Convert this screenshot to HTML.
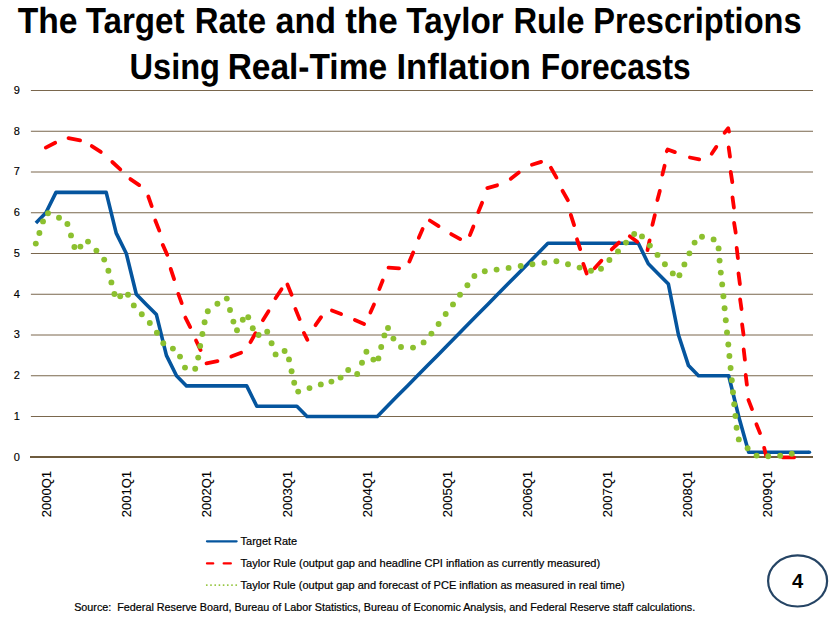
<!DOCTYPE html>
<html><head><meta charset="utf-8"><title>Taylor Rule</title>
<style>
html,body{margin:0;padding:0;background:#fff;}
body{width:835px;height:617px;overflow:hidden;font-family:"Liberation Sans",sans-serif;}
svg{display:block;}
text{font-family:"Liberation Sans",sans-serif;}
</style></head><body>
<svg width="835" height="617" viewBox="0 0 835 617">
<rect x="0" y="0" width="835" height="617" fill="#ffffff"/>
<g font-weight="bold" font-size="36.2" fill="#000" text-rendering="geometricPrecision">
<text x="17.72" y="32.8" textLength="59.84" lengthAdjust="spacingAndGlyphs">The</text>
<text x="85.72" y="32.8" textLength="98.84" lengthAdjust="spacingAndGlyphs">Target</text>
<text x="194.74" y="32.8" textLength="71.42" lengthAdjust="spacingAndGlyphs">Rate</text>
<text x="275.61" y="32.8" textLength="60.38" lengthAdjust="spacingAndGlyphs">and</text>
<text x="345.17" y="32.8" textLength="52.56" lengthAdjust="spacingAndGlyphs">the</text>
<text x="406.35" y="32.8" textLength="97.30" lengthAdjust="spacingAndGlyphs">Taylor</text>
<text x="513.44" y="32.8" textLength="71.00" lengthAdjust="spacingAndGlyphs">Rule</text>
<text x="593.35" y="32.8" textLength="208.21" lengthAdjust="spacingAndGlyphs">Prescriptions</text>
<text x="129.55" y="78.5" textLength="90.48" lengthAdjust="spacingAndGlyphs">Using</text>
<text x="227.63" y="78.5" textLength="159.43" lengthAdjust="spacingAndGlyphs">Real-Time</text>
<text x="396.40" y="78.5" textLength="134.60" lengthAdjust="spacingAndGlyphs">Inflation</text>
<text x="540.76" y="78.5" textLength="150.00" lengthAdjust="spacingAndGlyphs">Forecasts</text>
</g>
<g stroke="#7a674d" stroke-width="1" fill="none">
<line x1="30.9" y1="416.50" x2="813.0" y2="416.50"/>
<line x1="30.9" y1="375.75" x2="813.0" y2="375.75"/>
<line x1="30.9" y1="335.00" x2="813.0" y2="335.00"/>
<line x1="30.9" y1="294.25" x2="813.0" y2="294.25"/>
<line x1="30.9" y1="253.50" x2="813.0" y2="253.50"/>
<line x1="30.9" y1="212.75" x2="813.0" y2="212.75"/>
<line x1="30.9" y1="172.00" x2="813.0" y2="172.00"/>
<line x1="30.9" y1="131.25" x2="813.0" y2="131.25"/>
<line x1="30.9" y1="90.50" x2="813.0" y2="90.50"/>
</g>
<line x1="30" y1="457" x2="813.0" y2="457" stroke="#6e5b3e" stroke-width="2"/>
<g font-size="11" fill="#000" stroke="#000" stroke-width="0.15" text-anchor="end">
<text x="19.9" y="460.7">0</text>
<text x="19.9" y="419.9">1</text>
<text x="19.9" y="379.2">2</text>
<text x="19.9" y="338.4">3</text>
<text x="19.9" y="297.7">4</text>
<text x="19.9" y="256.9">5</text>
<text x="19.9" y="216.2">6</text>
<text x="19.9" y="175.4">7</text>
<text x="19.9" y="134.7">8</text>
<text x="19.9" y="94.0">9</text>
</g>
<g font-size="13" fill="#000" stroke="#000" stroke-width="0.1" text-anchor="end">
<text transform="translate(51.2,470.9) rotate(-90)" x="0" y="0">2000Q1</text>
<text transform="translate(131.3,470.9) rotate(-90)" x="0" y="0">2001Q1</text>
<text transform="translate(211.4,470.9) rotate(-90)" x="0" y="0">2002Q1</text>
<text transform="translate(291.5,470.9) rotate(-90)" x="0" y="0">2003Q1</text>
<text transform="translate(371.6,470.9) rotate(-90)" x="0" y="0">2004Q1</text>
<text transform="translate(451.7,470.9) rotate(-90)" x="0" y="0">2005Q1</text>
<text transform="translate(531.8,470.9) rotate(-90)" x="0" y="0">2006Q1</text>
<text transform="translate(611.9,470.9) rotate(-90)" x="0" y="0">2007Q1</text>
<text transform="translate(692.0,470.9) rotate(-90)" x="0" y="0">2008Q1</text>
<text transform="translate(772.1,470.9) rotate(-90)" x="0" y="0">2009Q1</text>
</g>
<polyline points="35.9,222.9 45.9,212.8 56.0,192.4 66.0,192.4 76.1,192.4 86.1,192.4 96.1,192.4 106.2,192.4 116.2,233.1 126.3,253.5 136.3,294.2 146.3,304.4 156.4,314.6 166.4,355.4 176.5,375.8 186.5,385.9 196.5,385.9 206.6,385.9 216.6,385.9 226.7,385.9 236.7,385.9 246.7,385.9 256.8,406.3 266.8,406.3 276.9,406.3 286.9,406.3 296.9,406.3 307.0,416.5 317.0,416.5 327.1,416.5 337.1,416.5 347.1,416.5 357.2,416.5 367.2,416.5 377.3,416.5 387.3,406.3 397.3,396.1 407.4,385.9 417.4,375.8 427.5,365.6 437.5,355.4 447.5,345.2 457.6,335.0 467.6,324.8 477.7,314.6 487.7,304.4 497.7,294.2 507.8,284.1 517.8,273.9 527.9,263.7 537.9,253.5 547.9,243.3 558.0,243.3 568.0,243.3 578.1,243.3 588.1,243.3 598.1,243.3 608.2,243.3 618.2,243.3 628.3,243.3 638.3,243.3 648.3,263.7 658.4,273.9 668.4,284.1 678.5,335.0 688.5,365.6 698.5,375.8 708.6,375.8 718.6,375.8 728.7,375.8 738.7,416.5 748.7,452.2 758.8,452.2 768.8,452.2 778.9,452.2 788.9,452.2 798.9,452.2 809.0,452.2" fill="none" stroke="#05559e" stroke-width="3.6" stroke-linejoin="round" stroke-linecap="butt"/>
<circle cx="809.4" cy="452.2" r="1.80" fill="#05559e"/>
<g fill="none" stroke="#ff0000" stroke-width="3.8" stroke-linecap="round" stroke-linejoin="round">
<polyline points="45.8,147.6 55.2,142.8"/>
<polyline points="68.5,138.2 80.1,140.4"/>
<polyline points="91.8,146.1 100.8,151.9"/>
<polyline points="112.3,162.0 120.3,169.4"/>
<polyline points="130.4,179.1 139.2,185.1"/>
<polyline points="148.3,196.5 151.7,206.1"/>
<polyline points="155.3,220.5 159.3,230.6"/>
<polyline points="162.8,244.9 167.2,254.7"/>
<polyline points="170.7,268.9 174.1,279.1"/>
<polyline points="178.3,293.9 181.7,303.1"/>
<polyline points="185.4,317.6 190.2,327.1"/>
<polyline points="196.0,340.5 200.6,350.1"/>
<polyline points="206.5,363.4 217.5,361.2"/>
<polyline points="231.3,356.6 241.1,352.8"/>
<polyline points="250.5,342.2 255.5,333.2"/>
<polyline points="262.9,320.2 268.5,311.2"/>
<polyline points="275.5,298.2 281.5,289.2"/>
<polyline points="287.4,284.5 291.6,294.7"/>
<polyline points="295.4,308.9 299.6,319.1"/>
<polyline points="303.9,332.9 307.4,339.8"/>
<polyline points="315.5,325.2 321.1,317.2"/>
<polyline points="331.9,310.4 341.1,314.0"/>
<polyline points="354.9,320.0 364.1,324.0"/>
<polyline points="370.4,312.6 374.0,304.5"/>
<polyline points="379.3,289.1 382.7,280.5"/>
<polyline points="388.5,267.7 399.1,268.3"/>
<polyline points="409.4,261.5 413.2,252.5"/>
<polyline points="418.8,237.7 422.6,228.9"/>
<polyline points="429.8,220.5 438.6,226.1"/>
<polyline points="451.2,234.1 460.2,239.1"/>
<polyline points="469.9,235.1 473.4,226.5"/>
<polyline points="478.3,212.1 482.1,202.7"/>
<polyline points="487.3,188.1 497.1,185.3"/>
<polyline points="510.8,178.8 518.8,172.6"/>
<polyline points="531.9,164.7 541.1,161.9"/>
<polyline points="550.9,167.8 556.5,177.6"/>
<polyline points="562.5,190.8 567.9,200.2"/>
<polyline points="570.8,214.9 574.1,225.1"/>
<polyline points="577.0,239.3 580.2,249.1"/>
<polyline points="583.3,263.9 586.7,273.5"/>
<polyline points="594.6,268.3 601.4,260.7"/>
<polyline points="611.7,249.4 618.9,242.6"/>
<polyline points="629.8,236.2 637.2,241.8"/>
<polyline points="647.5,250.1 649.6,240.4"/>
<polyline points="652.4,224.9 654.8,215.1"/>
<polyline points="657.4,200.1 659.8,190.9"/>
<polyline points="662.4,174.6 664.6,165.8"/>
<polyline points="666.8,151.2 667.7,149.5 674.9,152.1"/>
<polyline points="689.9,157.5 699.2,159.4"/>
<polyline points="711.7,153.7 716.3,146.9"/>
<polyline points="724.6,132.7 728.2,128.3 729.0,131.6"/>
<polyline points="728.7,147.5 730.0,156.7"/>
<polyline points="730.7,171.9 732.3,182.1"/>
<polyline points="732.5,197.3 733.9,207.5"/>
<polyline points="734.1,222.9 735.7,232.6"/>
<polyline points="736.7,247.9 737.9,258.1"/>
<polyline points="738.5,273.3 739.9,284.1"/>
<polyline points="740.1,299.3 741.5,309.1"/>
<polyline points="742.1,324.3 743.5,334.5"/>
<polyline points="743.7,349.5 744.9,359.7"/>
<polyline points="745.7,374.9 746.9,384.7"/>
<polyline points="748.4,399.9 752.0,409.1"/>
<polyline points="756.4,424.3 760.0,433.1"/>
<polyline points="764.2,447.9 766.2,456.1"/>
<polyline points="783.0,457.4 794.0,457.4"/>
</g>
<g fill="#8cc02f">
<circle cx="35.8" cy="243.6" r="2.95"/>
<circle cx="39.4" cy="233.0" r="2.95"/>
<circle cx="43.0" cy="221.4" r="2.95"/>
<circle cx="48.0" cy="213.2" r="2.95"/>
<circle cx="59.0" cy="217.8" r="2.95"/>
<circle cx="67.4" cy="224.0" r="2.95"/>
<circle cx="71.0" cy="235.4" r="2.95"/>
<circle cx="74.4" cy="247.0" r="2.95"/>
<circle cx="80.4" cy="246.6" r="2.95"/>
<circle cx="88.0" cy="241.6" r="2.95"/>
<circle cx="96.4" cy="250.6" r="2.95"/>
<circle cx="104.2" cy="259.6" r="2.95"/>
<circle cx="108.4" cy="270.8" r="2.95"/>
<circle cx="111.4" cy="282.4" r="2.95"/>
<circle cx="114.4" cy="294.0" r="2.95"/>
<circle cx="120.2" cy="296.2" r="2.95"/>
<circle cx="128.0" cy="294.8" r="2.95"/>
<circle cx="133.8" cy="305.4" r="2.95"/>
<circle cx="141.8" cy="314.2" r="2.95"/>
<circle cx="149.8" cy="323.0" r="2.95"/>
<circle cx="156.9" cy="332.8" r="2.95"/>
<circle cx="163.3" cy="343.2" r="2.95"/>
<circle cx="172.9" cy="348.6" r="2.95"/>
<circle cx="180.0" cy="356.6" r="2.95"/>
<circle cx="185.0" cy="367.6" r="2.95"/>
<circle cx="195.2" cy="368.8" r="2.95"/>
<circle cx="198.2" cy="357.6" r="2.95"/>
<circle cx="200.2" cy="346.0" r="2.95"/>
<circle cx="202.4" cy="334.0" r="2.95"/>
<circle cx="204.6" cy="322.2" r="2.95"/>
<circle cx="207.8" cy="311.2" r="2.95"/>
<circle cx="217.4" cy="303.8" r="2.95"/>
<circle cx="226.8" cy="298.6" r="2.95"/>
<circle cx="230.0" cy="310.0" r="2.95"/>
<circle cx="233.4" cy="321.6" r="2.95"/>
<circle cx="237.0" cy="330.2" r="2.95"/>
<circle cx="242.8" cy="319.8" r="2.95"/>
<circle cx="248.2" cy="317.2" r="2.95"/>
<circle cx="252.8" cy="328.2" r="2.95"/>
<circle cx="258.6" cy="335.0" r="2.95"/>
<circle cx="267.2" cy="331.8" r="2.95"/>
<circle cx="271.6" cy="343.2" r="2.95"/>
<circle cx="275.6" cy="354.4" r="2.95"/>
<circle cx="284.6" cy="351.0" r="2.95"/>
<circle cx="289.0" cy="359.4" r="2.95"/>
<circle cx="291.6" cy="371.2" r="2.95"/>
<circle cx="294.2" cy="382.8" r="2.95"/>
<circle cx="298.2" cy="391.6" r="2.95"/>
<circle cx="309.5" cy="388.1" r="2.95"/>
<circle cx="320.8" cy="384.4" r="2.95"/>
<circle cx="331.4" cy="381.6" r="2.95"/>
<circle cx="340.6" cy="377.6" r="2.95"/>
<circle cx="348.2" cy="370.0" r="2.95"/>
<circle cx="357.2" cy="374.0" r="2.95"/>
<circle cx="362.0" cy="362.8" r="2.95"/>
<circle cx="366.4" cy="351.8" r="2.95"/>
<circle cx="373.4" cy="359.6" r="2.95"/>
<circle cx="378.4" cy="358.4" r="2.95"/>
<circle cx="381.2" cy="347.0" r="2.95"/>
<circle cx="384.4" cy="335.4" r="2.95"/>
<circle cx="388.0" cy="328.0" r="2.95"/>
<circle cx="393.4" cy="338.6" r="2.95"/>
<circle cx="401.0" cy="347.0" r="2.95"/>
<circle cx="413.0" cy="347.6" r="2.95"/>
<circle cx="423.6" cy="342.4" r="2.95"/>
<circle cx="431.4" cy="333.6" r="2.95"/>
<circle cx="438.6" cy="324.0" r="2.95"/>
<circle cx="445.7" cy="314.0" r="2.95"/>
<circle cx="453.0" cy="304.4" r="2.95"/>
<circle cx="460.0" cy="294.8" r="2.95"/>
<circle cx="467.4" cy="285.2" r="2.95"/>
<circle cx="474.4" cy="276.0" r="2.95"/>
<circle cx="484.8" cy="271.2" r="2.95"/>
<circle cx="496.6" cy="269.6" r="2.95"/>
<circle cx="508.6" cy="267.9" r="2.95"/>
<circle cx="520.7" cy="266.0" r="2.95"/>
<circle cx="532.4" cy="264.2" r="2.95"/>
<circle cx="544.4" cy="262.8" r="2.95"/>
<circle cx="556.4" cy="261.2" r="2.95"/>
<circle cx="568.0" cy="264.2" r="2.95"/>
<circle cx="579.6" cy="267.6" r="2.95"/>
<circle cx="591.0" cy="270.8" r="2.95"/>
<circle cx="601.0" cy="268.8" r="2.95"/>
<circle cx="609.4" cy="260.0" r="2.95"/>
<circle cx="618.0" cy="251.4" r="2.95"/>
<circle cx="626.0" cy="242.6" r="2.95"/>
<circle cx="634.2" cy="234.0" r="2.95"/>
<circle cx="642.0" cy="236.4" r="2.95"/>
<circle cx="649.9" cy="245.6" r="2.95"/>
<circle cx="657.5" cy="254.9" r="2.95"/>
<circle cx="664.9" cy="264.3" r="2.95"/>
<circle cx="672.8" cy="273.4" r="2.95"/>
<circle cx="679.4" cy="275.2" r="2.95"/>
<circle cx="684.4" cy="264.4" r="2.95"/>
<circle cx="689.4" cy="253.4" r="2.95"/>
<circle cx="694.6" cy="242.6" r="2.95"/>
<circle cx="702.0" cy="236.8" r="2.95"/>
<circle cx="713.6" cy="239.4" r="2.95"/>
<circle cx="718.6" cy="248.4" r="2.95"/>
<circle cx="719.6" cy="260.6" r="2.95"/>
<circle cx="720.8" cy="272.6" r="2.95"/>
<circle cx="722.2" cy="284.4" r="2.95"/>
<circle cx="723.4" cy="296.2" r="2.95"/>
<circle cx="724.6" cy="308.2" r="2.95"/>
<circle cx="725.8" cy="320.2" r="2.95"/>
<circle cx="727.0" cy="332.4" r="2.95"/>
<circle cx="728.3" cy="344.5" r="2.95"/>
<circle cx="729.4" cy="356.0" r="2.95"/>
<circle cx="730.6" cy="368.0" r="2.95"/>
<circle cx="731.8" cy="380.2" r="2.95"/>
<circle cx="733.0" cy="392.2" r="2.95"/>
<circle cx="734.2" cy="404.2" r="2.95"/>
<circle cx="735.4" cy="416.0" r="2.95"/>
<circle cx="736.6" cy="427.8" r="2.95"/>
<circle cx="738.8" cy="439.4" r="2.95"/>
<circle cx="747.6" cy="448.2" r="2.95"/>
<circle cx="756.6" cy="455.6" r="2.95"/>
<circle cx="768.2" cy="456.2" r="2.95"/>
<circle cx="780.2" cy="455.8" r="2.95"/>
<circle cx="791.8" cy="453.8" r="2.95"/>
</g>
<line x1="207" y1="541.3" x2="236.6" y2="541.3" stroke="#05559e" stroke-width="2.3" stroke-linecap="round"/>
<g stroke="#ff0000" stroke-width="2.3" stroke-linecap="round">
<line x1="207" y1="563.4" x2="213.2" y2="563.4"/><line x1="223.7" y1="563.4" x2="230.8" y2="563.4"/>
</g>
<g fill="#8cc02f">
<circle cx="206.8" cy="585.1" r="0.95"/>
<circle cx="211.0" cy="585.1" r="0.95"/>
<circle cx="215.2" cy="585.1" r="0.95"/>
<circle cx="219.4" cy="585.1" r="0.95"/>
<circle cx="223.6" cy="585.1" r="0.95"/>
<circle cx="227.8" cy="585.1" r="0.95"/>
<circle cx="232.0" cy="585.1" r="0.95"/>
<circle cx="236.2" cy="585.1" r="0.95"/>
</g>
<g font-size="10.7" fill="#000" stroke="#000" stroke-width="0.2">
<text x="240.6" y="544.9" textLength="56.6" lengthAdjust="spacingAndGlyphs">Target Rate</text>
<text x="240.6" y="567.1" textLength="359.6" lengthAdjust="spacingAndGlyphs">Taylor Rule (output gap and headline CPI inflation as currently measured)</text>
<text x="240.6" y="588.8" textLength="384.2" lengthAdjust="spacingAndGlyphs">Taylor Rule (output gap and forecast of PCE inflation as measured in real time)</text>
<text x="74.2" y="610.9" textLength="621" lengthAdjust="spacingAndGlyphs" xml:space="preserve">Source:  Federal Reserve Board, Bureau of Labor Statistics, Bureau of Economic Analysis, and Federal Reserve staff calculations.</text>
</g>
<ellipse cx="797.6" cy="580.9" rx="29.5" ry="25.6" fill="none" stroke="#254464" stroke-width="2.2"/>
<text x="797.5" y="588.4" font-size="20.2" font-weight="bold" text-anchor="middle" fill="#000">4</text>
</svg>
</body></html>
